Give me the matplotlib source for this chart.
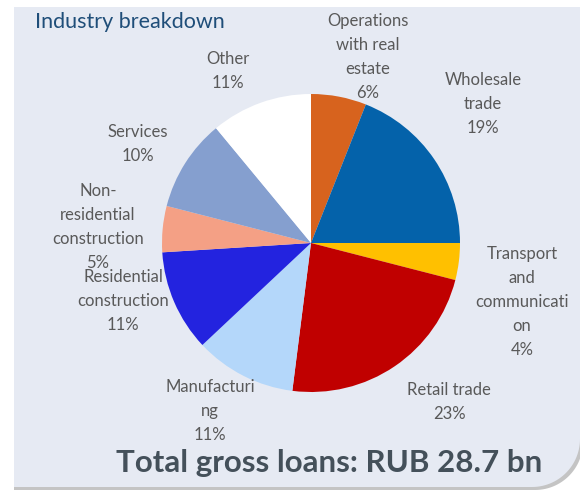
import numpy as np
import matplotlib.pyplot as plt
from matplotlib.patches import Polygon

# slices clockwise from 12 o'clock
labels = ["Operations\nwith real\nestate", "Wholesale\ntrade", "Transport\nand\ncommunicati\non",
          "Retail trade", "Manufacturi\nng", "Residential\nconstruction",
          "Non-\nresidential\nconstruction", "Services", "Other"]
shares = [6, 19, 4, 23, 11, 11, 5, 10, 11]
colors = ["#D7631E", "#0462AA", "#FFC000", "#C00000", "#B4D7FA",
          "#2323DF", "#F4A085", "#859FCF", "#FFFFFF"]
# label centres in pixels (x, y from top)
label_pos = [(368, 57), (483, 104), (522, 302), (449, 402), (210, 411),
             (123, 301), (98, 227), (138, 144), (228, 71)]

W, H = 580, 491
fig = plt.figure(figsize=(W / 100, H / 100), dpi=100)
fig.patch.set_facecolor("white")
plt.rcParams["font.family"] = ["Lato", "DejaVu Sans"]

# background panel, rounded bottom-right corner
def panel(x0, y0, x1, y1, r, **kw):
    t = np.linspace(0, np.pi / 2, 30)
    pts = [(x0, y0), (x1 + 5, y0)]
    pts += [(x1 - r + r * np.cos(a), y1 - r + r * np.sin(a)) for a in t]
    pts += [(x0, y1)]
    pts = [(x / W, 1 - y / H) for x, y in pts]
    fig.patches.append(Polygon(pts, closed=True, transform=fig.transFigure,
                               figure=fig, zorder=-5, **kw))

panel(14, 9, 583, 490, 48, facecolor="#C4C4C4", edgecolor="none")
panel(14, 7, 580, 487, 48, facecolor="#E6EAF3", edgecolor="none")

cx, cy, r = 311, 243, 149
ax = fig.add_axes([(cx - r) / W, 1 - (cy + r) / H, 2 * r / W, 2 * r / H])
ax.pie(shares, colors=colors, startangle=90, counterclock=False,
       wedgeprops=dict(linewidth=0))
ax.set_xlim(-1, 1)
ax.set_ylim(-1, 1)
ax.set_aspect("equal")
ax.axis("off")

for lab, s, (x, y) in zip(labels, shares, label_pos):
    fig.text(x / W, 1 - y / H, f"{lab}\n{s}%", ha="center", va="center",
             fontsize=12, color="#595959", linespacing=1.6)

fig.text(35 / W, 1 - 22 / H, "Industry breakdown", ha="left", va="center",
         fontsize=15.5, color="#1F4E79")
fig.text(329 / W, 1 - 463 / H, "Total gross loans: RUB 28.7 bn", ha="center", va="center",
         fontsize=22.5, fontweight="bold", color="#44505A")

fig.savefig("out.png", dpi=100, facecolor=fig.get_facecolor())
